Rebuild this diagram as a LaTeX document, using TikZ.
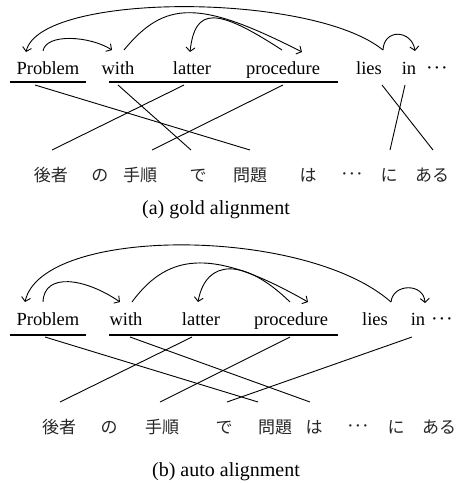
\documentclass[tikz,border=0pt]{standalone}
\usepackage{fontspec}
\setmainfont{Liberation Serif}
\newfontfamily\cjk{Noto Sans CJK JP}
\usetikzlibrary{arrows.meta}
\newcommand{\middots}{{\rmfamily\fontsize{20}{22}\selectfont ·\kern0.8pt·\kern0.8pt·}}
\begin{document}
\begin{tikzpicture}[x=1pt,y=-1pt,
  en/.style={anchor=base, inner sep=0pt, font=\fontsize{18.5}{20}\selectfont},
  jp/.style={anchor=base, inner sep=0pt, font=\cjk\fontsize{17}{20}\selectfont, text=black!85},
  capt/.style={anchor=base, inner sep=0pt, font=\fontsize{20}{22}\selectfont},
  ul/.style={line width=2.2pt},
  al/.style={line width=0.9pt},
  dep/.style={line width=0.9pt, -{Straight Barb[length=4pt,width=9pt]}},
]
\useasboundingbox (0,0) rectangle (460,483);

% ---------------- (a) ----------------
\node[en] (aProblem) at (48,74) {Problem};
\node[en] (awith) at (118,74) {with};
\node[en] (alatter) at (192,74) {latter};
\node[en] (aprocedure) at (283,74) {procedure};
\node[en] (alies) at (369,74) {lies};
\node[en] (ain) at (409,74) {in};
\node[en] (adots) at (437,74) {\middots};

\node[jp] (aj1) at (51,181) {後者};
\node[jp] (aj2) at (100,181) {の};
\node[jp] (aj3) at (140,181) {手順};
\node[jp] (aj4) at (198,181) {で};
\node[jp] (aj5) at (250,181) {問題};
\node[jp] (aj6) at (308,181) {は};
\node[jp] (aj7) at (352,180) {\middots};
\node[jp] (aj8) at (389,181) {に};
\node[jp] (aj9) at (432,181) {ある};

\node[capt] (acap) at (216,214) {(a) gold alignment};

% underlines
\coordinate (aU1s) at (10,82); \coordinate (aU1e) at (86,82);
\coordinate (aU2s) at (109,82); \coordinate (aU2e) at (338,82);
\draw[ul] (aU1s) -- (aU1e);
\draw[ul] (aU2s) -- (aU2e);

% alignment endpoints
\coordinate (aeP) at (35,85);  \coordinate (aew) at (118,85);
\coordinate (ael) at (184,85); \coordinate (aep) at (283,85);
\coordinate (aeli) at (382,85); \coordinate (aei) at (405,85);
\coordinate (aj1t) at (52,150); \coordinate (aj3t) at (152,150);
\coordinate (aj4t) at (191,150); \coordinate (aj5t) at (250,150);
\coordinate (aj8t) at (390,150); \coordinate (aj9t) at (433,150);
\draw[al] (aeP) -- (aj5t);
\draw[al] (aew) -- (aj4t);
\draw[al] (ael) -- (aj1t);
\draw[al] (aep) -- (aj3t);
\draw[al] (aeli) -- (aj9t);
\draw[al] (aei) -- (aj8t);

% dependency arcs
\coordinate (adP1) at (26,52);  \coordinate (adP2) at (43,51);
\coordinate (adw1) at (112,50); \coordinate (adw2) at (124,50);
\coordinate (adl) at (190,52);
\coordinate (adp1) at (282,50); \coordinate (adp2) at (302,52);
\coordinate (adli) at (383,50); \coordinate (adi) at (415,51);
\draw[dep] (adli) .. controls (312,-8) and (40,-8) .. (adP1);
\draw[dep] (adP2) .. controls (46,33) and (90,36) .. (adw1);
\draw[dep] (adw2) .. controls (165,0) and (200,0) .. (adp2);
\draw[dep] (adp1) .. controls (216,7) and (195,7) .. (adl);
\draw[dep] (adli) .. controls (384,28) and (412,30) .. (adi);

% ---------------- (b) ----------------
\node[en] (bProblem) at (48,325) {Problem};
\node[en] (bwith) at (126,325) {with};
\node[en] (blatter) at (201,325) {latter};
\node[en] (bprocedure) at (291,325) {procedure};
\node[en] (blies) at (375,325) {lies};
\node[en] (bin) at (418,325) {in};
\node[en] (bdots) at (442,325) {\middots};

\node[jp] (bj1) at (59,433) {後者};
\node[jp] (bj2) at (109,433) {の};
\node[jp] (bj3) at (162,433) {手順};
\node[jp] (bj4) at (224,433) {で};
\node[jp] (bj5) at (275,433) {問題};
\node[jp] (bj6) at (314,433) {は};
\node[jp] (bj7) at (358,432) {\middots};
\node[jp] (bj8) at (396,433) {に};
\node[jp] (bj9) at (439,433) {ある};

\node[capt] (bcap) at (226,476) {(b) auto alignment};

\coordinate (bU1s) at (10,335); \coordinate (bU1e) at (86,335);
\coordinate (bU2s) at (109,335); \coordinate (bU2e) at (338,335);
\draw[ul] (bU1s) -- (bU1e);
\draw[ul] (bU2s) -- (bU2e);

\coordinate (beP) at (45,337);  \coordinate (bew) at (130,337);
\coordinate (bel) at (192,337); \coordinate (bep) at (290,337);
\coordinate (bei) at (412,337);
\coordinate (bj1t) at (60,402); \coordinate (bj3t) at (160,402);
\coordinate (bj4t) at (227,402); \coordinate (bj5t) at (258,402);
\coordinate (bj6t) at (310,402);
\draw[al] (beP) -- (bj5t);
\draw[al] (bew) -- (bj6t);
\draw[al] (bel) -- (bj1t);
\draw[al] (bep) -- (bj3t);
\draw[al] (bei) -- (bj4t);

\coordinate (bdP1) at (25,302);  \coordinate (bdP2) at (43,302);
\coordinate (bdw1) at (120,302); \coordinate (bdw2) at (132,302);
\coordinate (bdl) at (198,302);
\coordinate (bdp1) at (290,302); \coordinate (bdp2) at (308,302);
\coordinate (bdli) at (391,302); \coordinate (bdi) at (425,303);
\draw[dep] (bdli) .. controls (305,226) and (42,226) .. (bdP1);
\draw[dep] (bdP2) .. controls (44,272) and (85,278) .. (bdw1);
\draw[dep] (bdw2) .. controls (170,250) and (217,250) .. (bdp2);
\draw[dep] (bdp1) .. controls (245,258) and (206,258) .. (bdl);
\draw[dep] (bdli) .. controls (393,283) and (424,283) .. (bdi);
\end{tikzpicture}
\end{document}
